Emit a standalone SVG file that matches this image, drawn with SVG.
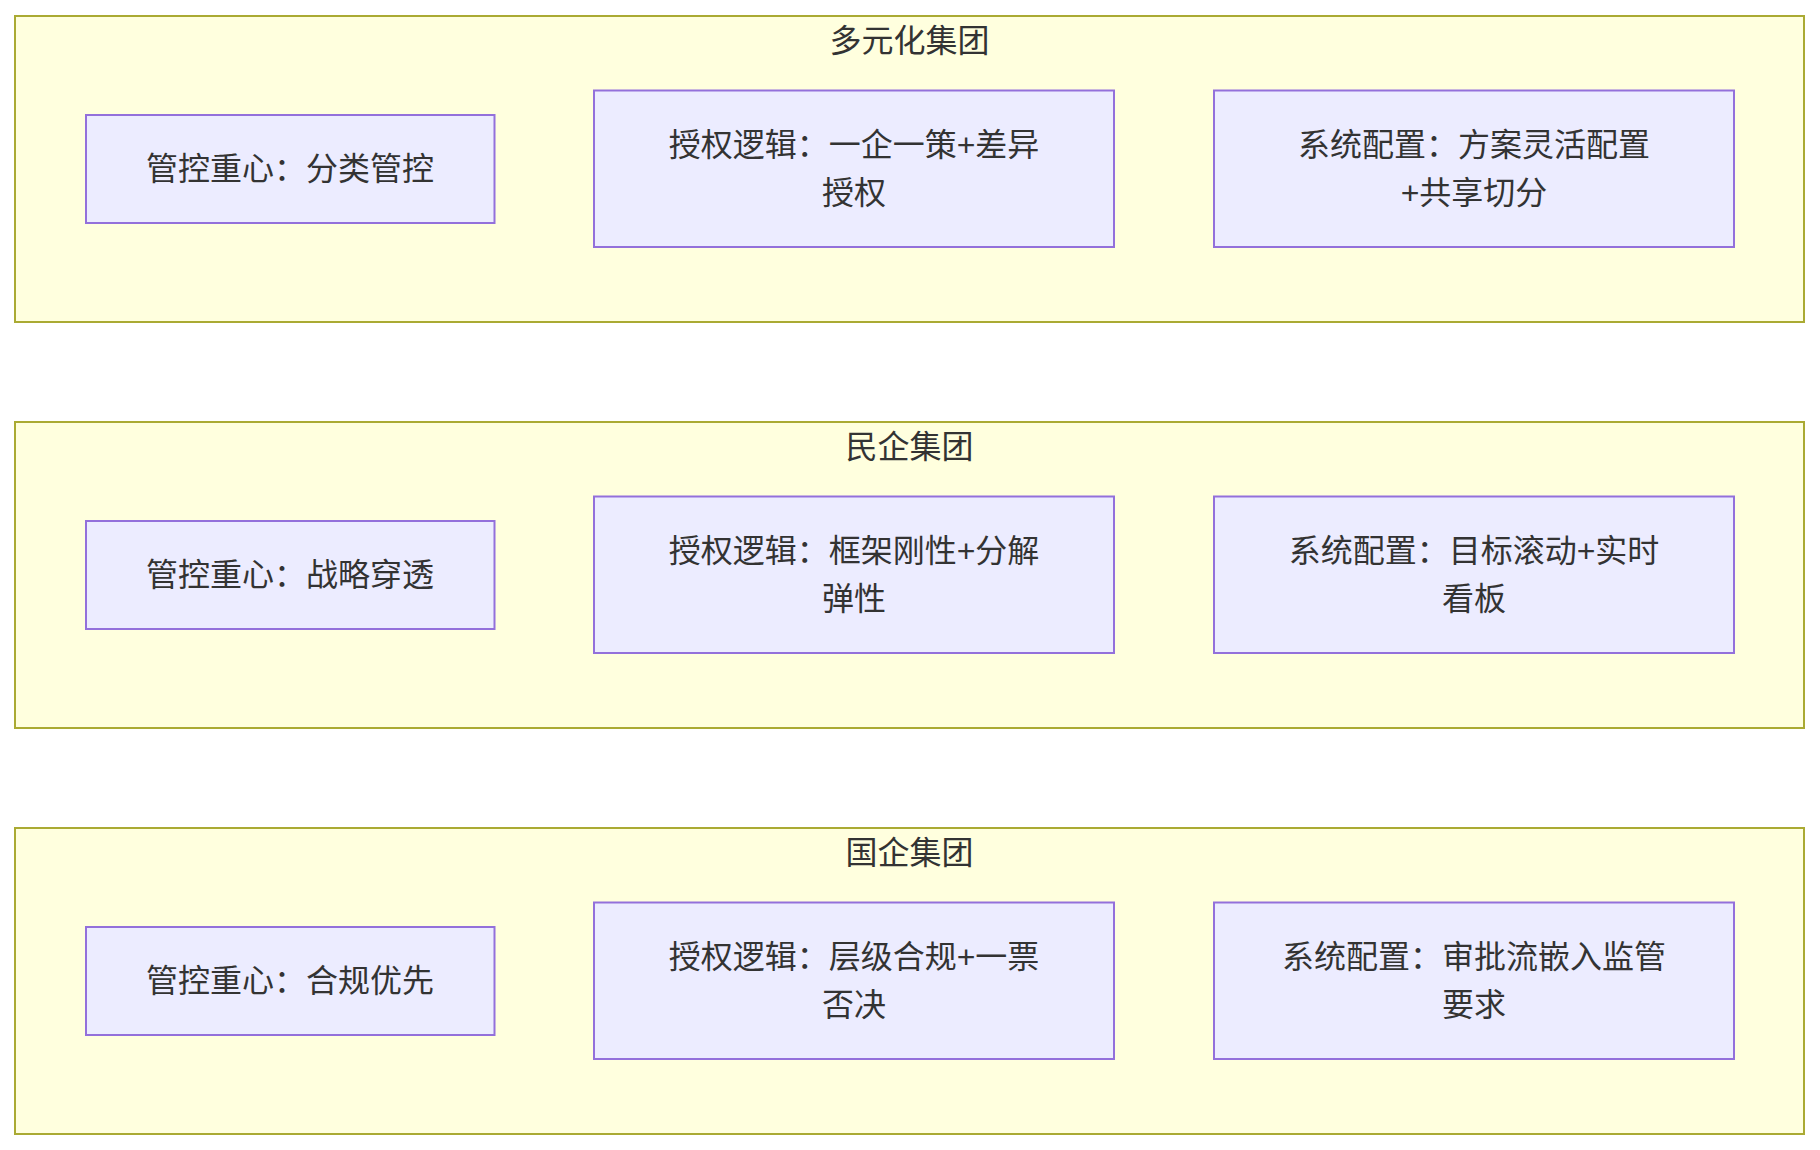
<svg xmlns="http://www.w3.org/2000/svg" width="1820" height="1150" viewBox="0 0 1820 1150">
<style>
.bg{fill:#ffffff}
.cluster{fill:#ffffde;stroke:#aaaa33;stroke-width:2}
.node{fill:#ececff;stroke:#9370db;stroke-width:2}
text{font-family:"Liberation Sans","Noto Sans CJK SC",sans-serif;font-size:32px;fill:#333333;text-anchor:middle;dominant-baseline:central}
</style>
<rect class="bg" x="0" y="0" width="1820" height="1150"/>
<g id="cluster-diversified">
<rect class="cluster" x="15" y="16" width="1789" height="306"/>
<text x="909.5" y="40.5">多元化集团</text>
</g>
<g id="d1"><rect class="node" x="86" y="115" width="408.5" height="108"/><text x="290" y="169">管控重心：分类管控</text></g>
<g id="d2"><rect class="node" x="594" y="90.5" width="520" height="156.5"/><text x="854" y="144.75">授权逻辑：一企一策+差异</text><text x="854" y="192.75">授权</text></g>
<g id="d3"><rect class="node" x="1214" y="90.5" width="520" height="156.5"/><text x="1474" y="144.75">系统配置：方案灵活配置</text><text x="1474" y="192.75">+共享切分</text></g>

<g id="cluster-private">
<rect class="cluster" x="15" y="422" width="1789" height="306"/>
<text x="909.5" y="446.5">民企集团</text>
</g>
<g id="p1"><rect class="node" x="86" y="521" width="408.5" height="108"/><text x="290" y="575">管控重心：战略穿透</text></g>
<g id="p2"><rect class="node" x="594" y="496.5" width="520" height="156.5"/><text x="854" y="550.75">授权逻辑：框架刚性+分解</text><text x="854" y="598.75">弹性</text></g>
<g id="p3"><rect class="node" x="1214" y="496.5" width="520" height="156.5"/><text x="1474" y="550.75">系统配置：目标滚动+实时</text><text x="1474" y="598.75">看板</text></g>

<g id="cluster-soe">
<rect class="cluster" x="15" y="828" width="1789" height="306"/>
<text x="909.5" y="852.5">国企集团</text>
</g>
<g id="s1"><rect class="node" x="86" y="927" width="408.5" height="108"/><text x="290" y="981">管控重心：合规优先</text></g>
<g id="s2"><rect class="node" x="594" y="902.5" width="520" height="156.5"/><text x="854" y="956.75">授权逻辑：层级合规+一票</text><text x="854" y="1004.75">否决</text></g>
<g id="s3"><rect class="node" x="1214" y="902.5" width="520" height="156.5"/><text x="1474" y="956.75">系统配置：审批流嵌入监管</text><text x="1474" y="1004.75">要求</text></g>

<g id="connectors"/>
</svg>
